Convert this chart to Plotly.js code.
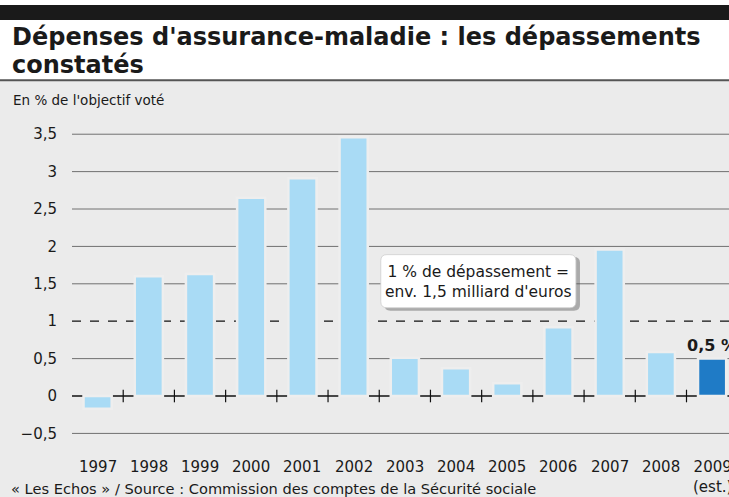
<!DOCTYPE html>
<html>
<head>
<meta charset="utf-8">
<script src="https://cdn.plot.ly/plotly-3.0.1.min.js"></script>
<style>html,body{margin:0;padding:0;background:#fff;overflow:hidden}#chart{width:729px;height:497px}</style>
</head>
<body>
<div id="chart"></div>
<script>
var years = ['1997','1998','1999','2000','2001','2002','2003','2004','2005','2006','2007','2008','2009<br>(est.)'];
var values = [-0.17, 1.6, 1.63, 2.65, 2.91, 3.46, 0.51, 0.37, 0.17, 0.92, 1.96, 0.59, 0.5];
var estimated = [false,false,false,false,false,false,false,false,false,false,false,false,true];
var yTickVals = [-0.5, 0, 0.5, 1, 1.5, 2, 2.5, 3, 3.5];
var yTickText = ['\u22120,5','0','0,5','1','1,5','2','2,5','3','3,5'];
var lastLabel = '0,5 %';

var cond = 'DejaVu Sans, sans-serif';
var bg = '#ebebeb';
var idx = years.map(function(_, i){ return i; });

var shapes = [];
shapes.push({type:'rect', xref:'paper', yref:'paper', x0:-0.2, x1:1.1, y0:-0.3, y1:1.12, fillcolor:bg, line:{width:0}, layer:'below'});
shapes.push({type:'rect', xref:'paper', yref:'paper', x0:-0.2, x1:1.1, y0:1.308, y1:1.354, fillcolor:'#1a1a1a', line:{width:0}, layer:'below'});
shapes.push({type:'line', xref:'paper', yref:'paper', x0:-0.2, x1:1.1, y0:1.122, y1:1.122, line:{color:'#555', width:2}, layer:'below'});
yTickVals.forEach(function(v){
  var ln;
  if (v === 1) ln = {color:'#111', width:1.2, dash:'dash'};
  else if (v === 0) ln = {color:'#111', width:1.4};
  else ln = {color:'#707070', width:1};
  shapes.push({type:'line', xref:'paper', yref:'y', x0:0, x1:1, y0:v, y1:v, line:ln, layer:'below'});
});

var traces = [{
  type:'bar', x:idx, y:values, width:0.55,
  marker:{color: estimated.map(function(e){ return e ? '#1f7bc6' : '#a9dbf5'; }),
          line:{color:'#eeeeee', width:2.5}},
  hoverinfo:'none'
},{
  type:'scatter', mode:'markers',
  x: idx.slice(0, -1).map(function(i){ return i + 0.5; }),
  y: idx.slice(0, -1).map(function(){ return 0; }),
  marker:{symbol:'line-ns', size:9, line:{color:'#111', width:1.2}},
  hoverinfo:'none'
}];

var annotations = [
  {xref:'paper', yref:'paper', x:-0.095, y:1.256, xanchor:'left', yanchor:'middle', showarrow:false,
   text:"Dépenses d'assurance-maladie : les dépassements", font:{family:'DejaVu Sans, sans-serif', size:24, color:'#1a1a1a', weight:700}},
  {xref:'paper', yref:'paper', x:-0.095, y:1.17, xanchor:'left', yanchor:'middle', showarrow:false,
   text:'constatés', font:{family:'DejaVu Sans, sans-serif', size:24, color:'#1a1a1a', weight:700}},
  {xref:'paper', yref:'paper', x:-0.093, y:1.062, xanchor:'left', yanchor:'middle', showarrow:false,
   text:"En % de l'objectif voté", font:{family:cond, size:13.5, color:'#1a1a1a'}},
  {xref:'paper', yref:'paper', x:-0.096, y:-0.135, xanchor:'left', yanchor:'middle', showarrow:false,
   text:'« Les Echos » / Source : Commission des comptes de la Sécurité sociale', font:{family:'DejaVu Sans, sans-serif', size:14.6, color:'#1a1a1a'}},
  {xref:'x', yref:'y', x:12, y:values[12], xanchor:'center', yanchor:'bottom', yshift:2, showarrow:false,
   text:lastLabel, font:{family:cond, size:16, color:'#1a1a1a', weight:700}},
  {xref:'x', yref:'y', x:7.43, y:1.53, xanchor:'center', yanchor:'middle', showarrow:false,
   text:'1 % de dépassement =<br>env. 1,5 milliard d\'euros', font:{family:cond, size:15.5, color:'#1a1a1a'}}
];
years.forEach(function(t, i){
  annotations.push({xref:'x', yref:'paper', x:i, y:-0.035, xanchor:'center', yanchor:'top', showarrow:false,
    text:t, font:{family:cond, size:15, color:'#1a1a1a'}});
});

function rrect(x0,x1,y0,y1,rx,ry){
  return 'M'+(x0+rx)+','+y1+' L'+(x1-rx)+','+y1+' Q'+x1+','+y1+' '+x1+','+(y1-ry)+
    ' L'+x1+','+(y0+ry)+' Q'+x1+','+y0+' '+(x1-rx)+','+y0+' L'+(x0+rx)+','+y0+
    ' Q'+x0+','+y0+' '+x0+','+(y0+ry)+' L'+x0+','+(y1-ry)+' Q'+x0+','+y1+' '+(x0+rx)+','+y1+' Z';
}
shapes.push({type:'path', xref:'x', yref:'y', path:rrect(5.6,9.42,1.14,1.86,0.12,0.08), fillcolor:'rgba(90,90,90,0.45)', line:{width:0}, layer:'above'});
shapes.push({type:'path', xref:'x', yref:'y', path:rrect(5.53,9.34,1.18,1.89,0.12,0.08), fillcolor:'#ffffff', line:{color:'#cfcfcf', width:0.8}, layer:'above'});

var layout = {
  width:729, height:497,
  margin:{l:72, r:0, t:120, b:52},
  paper_bgcolor:'#ffffff', plot_bgcolor:'rgba(0,0,0,0)',
  showlegend:false,
  xaxis:{range:[-0.5, 12.33], showticklabels:false, showgrid:false, zeroline:false, showline:false, ticks:'', fixedrange:true},
  yaxis:{range:[-0.655, 3.69], tickvals:yTickVals, ticktext:yTickText, showgrid:false, zeroline:false, showline:false,
         ticks:'outside', ticklen:11, tickcolor:'rgba(0,0,0,0)', tickfont:{family:cond, size:15, color:'#1a1a1a'}, fixedrange:true},
  shapes:shapes,
  annotations:annotations
};

Plotly.newPlot('chart', traces, layout, {displayModeBar:false, staticPlot:true});
</script>
</body>
</html>
